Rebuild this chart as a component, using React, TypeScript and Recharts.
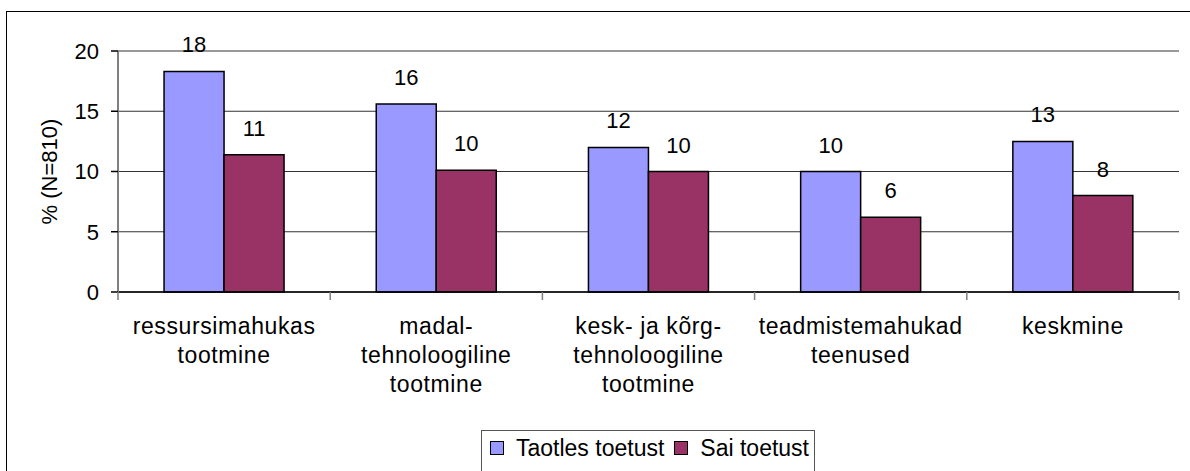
import React from "react";
import {
  BarChart,
  Bar,
  XAxis,
  YAxis,
  CartesianGrid,
  LabelList,
  Legend,
  Label,
} from "recharts";

const categories = [
  "ressursimahukas tootmine",
  "madal- tehnoloogiline tootmine",
  "kesk- ja kõrg- tehnoloogiline tootmine",
  "teadmistemahukad teenused",
  "keskmine",
];
const categoryLines = [
  ["ressursimahukas", "tootmine"],
  ["madal-", "tehnoloogiline", "tootmine"],
  ["kesk- ja kõrg-", "tehnoloogiline", "tootmine"],
  ["teadmistemahukad", "teenused"],
  ["keskmine"],
];
const applied = [18.3, 15.6, 12.0, 10.0, 12.5];
const received = [11.4, 10.1, 10.0, 6.2, 8.0];
const yTicks = [0, 5, 10, 15, 20];
const seriesNames = ["Taotles toetust", "Sai toetust"];
const seriesColors = ["#9999FF", "#993366"];

const data = categories.map((c, i) => ({
  name: c,
  applied: applied[i],
  received: received[i],
}));

const CHART_W = 1190;
const CHART_H = 471;
const M = { top: 51, right: 11, bottom: 79, left: 8 };
const Y_W = 110;
const FONT = "Arial, 'Liberation Sans', sans-serif";
const BAND = (CHART_W - M.left - Y_W - M.right) / categories.length;

function CategoryTick(props: any) {
  const { x, y, index, payload } = props;
  const lines: string[] = categoryLines[index] ?? [String(payload.value)];
  const half = BAND / 2;
  return (
    <g>
      <line x1={x - half} x2={x - half} y1={y} y2={y + 8} stroke="#808080" strokeWidth={1.5} />
      {index === categories.length - 1 && (
        <line x1={x + half} x2={x + half} y1={y} y2={y + 8} stroke="#808080" strokeWidth={1.5} />
      )}
      <text
        x={x}
        y={y + 42}
        textAnchor="middle"
        fill="#000"
        fontSize={23}
        letterSpacing={0.6}
        fontFamily={FONT}
      >
        {lines.map((l, i) => (
          <tspan key={i} x={x} dy={i === 0 ? 0 : 29}>
            {l}
          </tspan>
        ))}
      </text>
    </g>
  );
}

function LegendBox() {
  return (
    <div
      style={{
        width: 334,
        height: 60,
        border: "1.5px solid #555",
        boxSizing: "border-box",
        background: "#fff",
        fontFamily: FONT,
        fontSize: 23,
        display: "flex",
        flexWrap: "nowrap",
        alignItems: "flex-start",
        paddingTop: 4,
        paddingLeft: 8,
        whiteSpace: "nowrap",
      }}
    >
      {seriesNames.map((n, i) => (
        <div
          key={n}
          style={{
            display: "flex",
            alignItems: "center",
            marginRight: 10,
            lineHeight: "26px",
            flexShrink: 0,
            whiteSpace: "nowrap",
          }}
        >
          <span
            style={{
              display: "inline-block",
              width: 14,
              height: 14,
              flexShrink: 0,
              background: seriesColors[i],
              border: "1.5px solid #000",
              boxSizing: "border-box",
              marginRight: 12,
            }}
          />
          <span style={{ whiteSpace: "nowrap" }}>{n}</span>
        </div>
      ))}
    </div>
  );
}

export default function App() {
  return (
    <div
      style={{
        position: "absolute",
        left: 0,
        top: 0,
        width: CHART_W,
        height: CHART_H,
        overflow: "hidden",
        background: "#fff",
      }}
    >
      <div
        style={{
          position: "absolute",
          left: 6,
          top: 11,
          width: 2000,
          height: 1000,
          borderLeft: "1.5px solid #000",
          borderTop: "1.5px solid #000",
        }}
      />
      <BarChart
        width={CHART_W}
        height={CHART_H}
        data={data}
        margin={M}
        barCategoryGap="21.7%"
        barGap={0}
        style={{ position: "absolute", left: 0, top: 0 }}
      >
        <CartesianGrid vertical={false} stroke="#333" strokeWidth={1} />
        <XAxis
          dataKey="name"
          interval={0}
          tickLine={false}
          tickSize={0}
          tickMargin={0}
          height={100}
          axisLine={{ stroke: "#000", strokeWidth: 1.5 }}
          tick={<CategoryTick />}
        />
        <YAxis
          width={Y_W}
          domain={[0, 20]}
          ticks={yTicks}
          interval={0}
          tickSize={7}
          tickMargin={12}
          axisLine={{ stroke: "#808080", strokeWidth: 2 }}
          tickLine={{ stroke: "#000", strokeWidth: 1.5 }}
          tick={{ fill: "#000", fontSize: 22, fontFamily: FONT }}
        >
          <Label
            value="% (N=810)"
            angle={-90}
            position="insideLeft"
            offset={41}
            style={{ fill: "#000", fontSize: 22, fontFamily: FONT, textAnchor: "middle" }}
          />
        </YAxis>
        <Legend
          layout="horizontal"
          verticalAlign="middle"
          align="center"
          wrapperStyle={{ position: "absolute", left: 481, top: 430, width: 334 }}
          content={() => <LegendBox />}
        />
        <Bar
          dataKey="applied"
          name={seriesNames[0]}
          fill={seriesColors[0]}
          stroke="#000"
          strokeWidth={1.5}
          isAnimationActive={false}
        >
          <LabelList
            dataKey="applied"
            position="top"
            offset={19}
            formatter={(v: any) => Math.round(Number(v))}
            style={{ fill: "#000", fontSize: 22, fontFamily: FONT }}
          />
        </Bar>
        <Bar
          dataKey="received"
          name={seriesNames[1]}
          fill={seriesColors[1]}
          stroke="#000"
          strokeWidth={1.5}
          isAnimationActive={false}
        >
          <LabelList
            dataKey="received"
            position="top"
            offset={19}
            formatter={(v: any) => Math.round(Number(v))}
            style={{ fill: "#000", fontSize: 22, fontFamily: FONT }}
          />
        </Bar>
      </BarChart>
    </div>
  );
}
